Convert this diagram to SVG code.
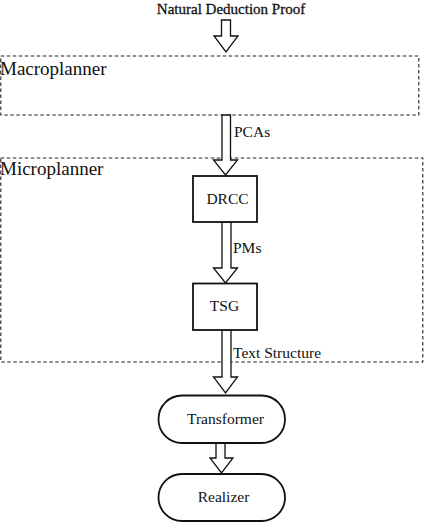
<svg xmlns="http://www.w3.org/2000/svg" width="428" height="530" viewBox="0 0 428 530">
<style>
text{font-family:"Liberation Serif","Times New Roman",serif;fill:#111}
.lbl{font-size:15.5px}
.big{font-size:19px}
.dash{fill:none;stroke:#222;stroke-width:1.1;stroke-dasharray:3.5 2.5}
.box{fill:#fff;stroke:#111;stroke-width:1.8}
.arr{fill:#fff;stroke:#111;stroke-width:1.3;stroke-linejoin:miter}
</style>
<rect width="428" height="530" fill="#fff"/>
<g id="macroplanner">
<rect class="dash" x="0.8" y="56" width="418" height="59"/>
<text class="big" x="0" y="75">Macroplanner</text>
</g>
<g id="microplanner">
<rect class="dash" x="0.8" y="158" width="422" height="204"/>
<text class="big" x="0" y="175">Microplanner</text>
</g>
<g id="input">
<text x="231" y="14" text-anchor="middle" style="font-size:15px;stroke:#111;stroke-width:0.3">Natural Deduction Proof</text>
</g>
<g id="connectors">
<polygon class="arr" points="221.5,20 230.5,20 230.5,36 238,36 226,52 214,36 221.5,36"/>
<polygon class="arr" points="222,115 230.5,115 230.5,160 237.5,160 225.5,175 213.5,160 222,160"/>
<text class="lbl" x="234" y="137">PCAs</text>
<polygon class="arr" points="222,222 231,222 231,268 237.5,268 225.5,283 213.5,268 222,268"/>
<text class="lbl" x="233" y="253">PMs</text>
<polygon class="arr" points="222,330 231,330 231,377 237.5,377 225.5,393 213.5,377 222,377"/>
<text class="lbl" x="233" y="358">Text Structure</text>
<polygon class="arr" points="216,443 225,443 225,458 233,458 221.5,473 210,458 216,458"/>
</g>
<g id="drcc">
<rect class="box" x="193" y="176" width="64" height="46"/>
<text class="lbl" x="227.5" y="204" text-anchor="middle">DRCC</text>
</g>
<g id="tsg">
<rect class="box" x="193" y="283.5" width="64" height="46.5"/>
<text class="lbl" x="224.5" y="311" text-anchor="middle">TSG</text>
</g>
<g id="transformer">
<rect class="box" x="158.5" y="395.5" width="126.5" height="47.5" rx="23.5"/>
<text class="lbl" x="225.5" y="424" text-anchor="middle">Transformer</text>
</g>
<g id="realizer">
<rect class="box" x="158.5" y="474" width="126.5" height="47" rx="23.5"/>
<text class="lbl" x="223.5" y="502" text-anchor="middle">Realizer</text>
</g>
</svg>
